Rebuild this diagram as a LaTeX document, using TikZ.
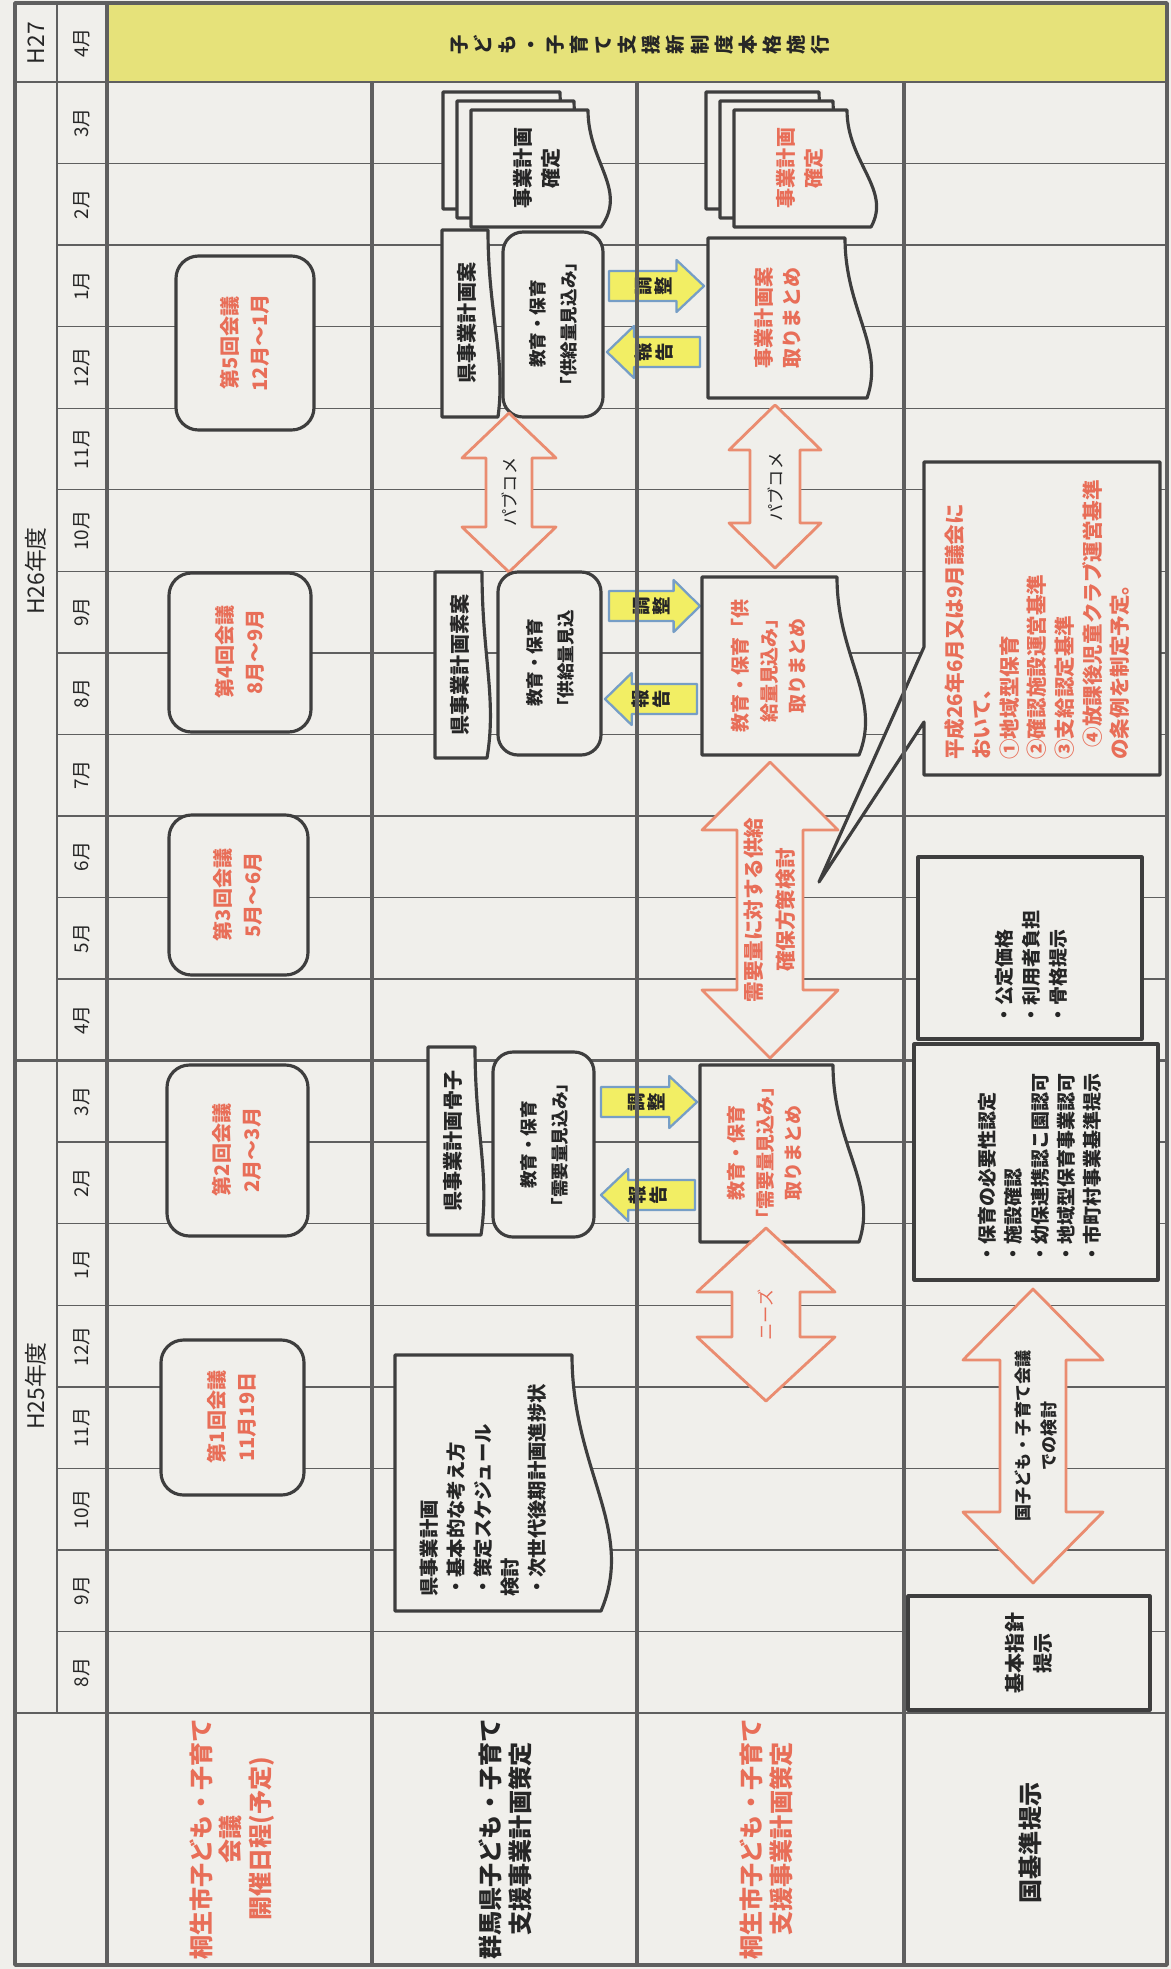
\documentclass[tikz,border=0pt]{standalone}
\usepackage{fontspec}
\setmainfont{Noto Sans CJK JP}
\usetikzlibrary{calc}

\definecolor{paper}{RGB}{240,239,235}
\definecolor{gridline}{RGB}{95,95,95}
\definecolor{boxline}{RGB}{62,62,62}
\definecolor{ink}{RGB}{38,38,38}
\definecolor{kiryured}{RGB}{232,110,88}
\definecolor{coral}{RGB}{234,140,112}
\definecolor{bandyellow}{RGB}{230,226,122}
\definecolor{tagyellow}{RGB}{242,238,100}
\definecolor{tagblue}{RGB}{118,158,198}

% 書類の形: 左x, 上y, 右上x, 下y, 右下のずれ, ふくらみ
\newcommand{\docpath}[6]{({#1},{#2}) -- ({#3},{#2})
  .. controls ({#3},{(#2)+0.45*((#4)-(#2))}) and ({(#3)+(#6)},{(#2)+0.68*((#4)-(#2))}) .. ({(#3)+(#5)},{#4})
  -- ({#1},{#4}) -- cycle}
% 両矢印: 中心x, 上端y, 下端y, 矢じり長さ, 矢じり半幅, 軸半幅
\newcommand{\dblarrow}[6]{({#1},{#2}) -- ({(#1)+(#5)},{(#2)+(#4)}) -- ({(#1)+(#6)},{(#2)+(#4)})
  -- ({(#1)+(#6)},{(#3)-(#4)}) -- ({(#1)+(#5)},{(#3)-(#4)}) -- ({#1},{#3})
  -- ({(#1)-(#5)},{(#3)-(#4)}) -- ({(#1)-(#6)},{(#3)-(#4)}) -- ({(#1)-(#6)},{(#2)+(#4)})
  -- ({(#1)-(#5)},{(#2)+(#4)}) -- cycle}
% 小矢印: 根元x, 先端x, 中心y
\newcommand{\tagarrow}[3]{({#1},{(#3)-15}) -- ({(#2)-0.29*((#2)-(#1))},{(#3)-15})
  -- ({(#2)-0.29*((#2)-(#1))},{(#3)-26}) -- ({#2},{#3})
  -- ({(#2)-0.29*((#2)-(#1))},{(#3)+26}) -- ({(#2)-0.29*((#2)-(#1))},{(#3)+15})
  -- ({#1},{(#3)+15}) -- cycle}

\begin{document}
\begin{tikzpicture}[x=0.2mm, y=-0.2mm, line join=round,
    grid/.style={gridline, line width=0.8pt},
    divider/.style={gridline, line width=2pt},
    box/.style={boxline, line width=1.8pt, fill=paper},
    bigarrow/.style={coral, line width=1.6pt, fill=paper},
    tag/.style={tagblue, line width=1.3pt, fill=tagyellow},
    lbl/.style={rotate=90, align=center, inner sep=0pt, text=ink},
    redtxt/.style={text=kiryured},
    monthtxt/.style={font=\fontsize{10.8}{13}\selectfont},
    yeartxt/.style={font=\fontsize{13}{16}\selectfont},
    meettxt/.style={font=\fontsize{11.4}{17}\selectfont\bfseries, text=kiryured},
    doctxt/.style={font=\fontsize{11.4}{16}\selectfont\bfseries},
    edutxt/.style={font=\fontsize{10}{17.6}\selectfont\bfseries},
    sumtxt/.style={font=\fontsize{10.8}{16.2}\selectfont\bfseries, text=kiryured},
    listtxt/.style={font=\fontsize{11}{15.4}\selectfont\bfseries, align=left, anchor=west},
    tagtxt/.style={font=\fontsize{10.5}{11.5}\selectfont\bfseries},
    arrowtxt/.style={font=\fontsize{9.8}{12}\selectfont},
    labeltxt/.style={font=\fontsize{13.7}{17}\selectfont\bfseries}]

  \useasboundingbox (0,0) rectangle (1171,1969);
  \fill[paper] (0,0) rectangle (1171,1969);
  \fill[bandyellow] (107,3) rectangle (1167,82);

  % 月の線
  \foreach \k in {1,...,7,9,10,...,19}
    \draw[grid] (57,{1713-81.55*\k}) -- (1167,{1713-81.55*\k});
  \draw[grid, line width=1.3pt] (15,{1713-81.55*8}) -- (1167,{1713-81.55*8});
  \draw[grid, line width=1.6pt] (15,82) -- (1167,82);
  \draw[grid, line width=1.6pt] (15,1713) -- (1167,1713);

  % 見出し
  \node[lbl, yeartxt] (h27) at (36,43) {H27};
  \node[lbl, monthtxt] (apr27) at (82,43) {4月};
  \node[lbl, yeartxt] (h26) at (36,571) {H26年度};
  \node[lbl, yeartxt] (h25) at (36,1386) {H25年度};
  \foreach \m [count=\k from 0] in {8,9,10,11,12,1,2,3,4,5,6,7,8,9,10,11,12,1,2,3}
    \node[lbl, monthtxt] (mon\k) at (82,{1713-81.55*(\k+0.5)}) {\m 月};
  \node[lbl, font=\fontsize{11}{13.7}\selectfont\bfseries] (band) at (640,45)
    {子\\ど\\も\\・\\子\\育\\て\\支\\援\\新\\制\\度\\本\\格\\施\\行};

  % 会議
  \draw[box, rounded corners=4.5mm] (176,256) rectangle (314,430);
  \node[lbl, meettxt] (meet5) at (245,343) {第5回会議\\12月～1月};
  \draw[box, rounded corners=4.5mm] (169,573) rectangle (311,732);
  \node[lbl, meettxt] (meet4) at (240,652) {第4回会議\\8月～9月};
  \draw[box, rounded corners=4.5mm] (169,815) rectangle (308,975);
  \node[lbl, meettxt] (meet3) at (238,895) {第3回会議\\5月～6月};
  \draw[box, rounded corners=4.5mm] (167,1065) rectangle (308,1236);
  \node[lbl, meettxt] (meet2) at (237,1150) {第2回会議\\2月～3月};
  \draw[box, rounded corners=4.5mm] (161,1340) rectangle (304,1495);
  \node[lbl, meettxt] (meet1) at (232,1417) {第1回会議\\11月19日};

  % 群馬県
  \foreach \s in {2,1,0}
    \draw[box] \docpath{471-14*\s}{110-9*\s}{588-14*\s}{227-9*\s}{13}{40};
  \node[lbl, doctxt] (plan2) at (537,168) {事業計画\\確定};
  \draw[box] \docpath{442}{230}{488}{417}{10}{18};
  \node[lbl, doctxt] (pref5) at (467,323) {県事業計画案};
  \draw[box, rounded corners=4mm] (503,232) rectangle (603,417);
  \node[lbl, edutxt] (edu5) at (553,324) {教育・保育\\「供給量見込み」};
  \draw[bigarrow] \dblarrow{509}{413}{572}{45}{47}{23};
  \node[lbl, arrowtxt] (pub2) at (509,492) {パブコメ};
  \draw[box] \docpath{435}{572}{482}{758}{5}{15};
  \node[lbl, doctxt] (pref4) at (460,665) {県事業計画素案};
  \draw[box, rounded corners=4mm] (498,572) rectangle (601,755);
  \node[lbl, edutxt] (edu4) at (550,663) {教育・保育\\「供給量見込};
  \draw[box] \docpath{428}{1047}{475}{1235}{6}{15};
  \node[lbl, doctxt] (pref3) at (453,1141) {県事業計画骨子};
  \draw[box, rounded corners=4mm] (493,1052) rectangle (594,1237);
  \node[lbl, edutxt] (edu3) at (544,1145) {教育・保育\\「需要量見込み」};
  \draw[box] \docpath{395}{1355}{572}{1611}{29}{64};
  \node[lbl, listtxt] (pref1) at (483,1597)
    {県事業計画\\・基本的な考え方\\・策定スケジュール\\検討\\・次世代後期計画進捗状};

  % 調整・報告
  \draw[tag] \tagarrow{609}{704}{286};
  \node[lbl, tagtxt] (adj5) at (654,286) {調\\整};
  \draw[tag] \tagarrow{700}{607}{352};
  \node[lbl, tagtxt] (rep5) at (654,352) {報\\告};
  \draw[tag] \tagarrow{609}{700}{606};
  \node[lbl, tagtxt] (adj4) at (652,606) {調\\整};
  \draw[tag] \tagarrow{697}{605}{699};
  \node[lbl, tagtxt] (rep4) at (651,699) {報\\告};
  \draw[tag] \tagarrow{601}{697}{1102};
  \node[lbl, tagtxt] (adj3) at (647,1102) {調\\整};
  \draw[tag] \tagarrow{695}{601}{1195};
  \node[lbl, tagtxt] (rep3) at (648,1195) {報\\告};

  % 桐生市
  \foreach \s in {2,1,0}
    \draw[box] \docpath{734-14*\s}{110-9*\s}{847-14*\s}{227-9*\s}{24}{45};
  \node[lbl, doctxt, redtxt] (plan3) at (800,168) {事業計画\\確定};
  \draw[box] \docpath{708}{238}{845}{398}{22}{40};
  \node[lbl, doctxt, redtxt] (sum5) at (778,318) {事業計画案\\取りまとめ};
  \draw[bigarrow] \dblarrow{775}{405}{568}{45}{46}{25};
  \node[lbl, arrowtxt] (pub3) at (775,487) {パブコメ};
  \draw[box] \docpath{702}{577}{837}{755}{22}{45};
  \node[lbl, sumtxt] (sum4) at (769,666) {教育・保育「供\\給量見込み」\\取りまとめ};
  \draw[bigarrow] \dblarrow{770}{762}{1058}{68}{68}{33};
  \node[lbl, font=\fontsize{11.7}{18.2}\selectfont\bfseries, redtxt] (supply) at (770,910)
    {需要量に対する供給\\確保方策検討};
  \draw[box] \docpath{700}{1065}{833}{1242}{26}{45};
  \node[lbl, sumtxt] (sum3) at (765,1153) {教育・保育\\「需要量見込み」\\取りまとめ};
  \draw[bigarrow] \dblarrow{766}{1228}{1401}{64}{69}{34};
  \node[lbl, arrowtxt, redtxt] (needs) at (766,1315) {ニーズ};

  % 国
  \coordinate (tip) at (819,882);
  \draw[box] (924,462) -- (1160,462) -- (1160,775) -- (924,775) -- (924,722) -- (tip)
    -- (924,647) -- cycle;
  \node[lbl, redtxt, font=\fontsize{11.7}{15.7}\selectfont\bfseries, align=left, anchor=west] (note)
    at (1037,760) {平成26年6月又は9月議会に\\おいて、\\①地域型保育\\②確認施設運営基準\\
    ③支給認定基準\\\hspace{0.6em}④放課後児童クラブ運営基準\\の条例を制定予定。};
  \draw[box] (918,857) rectangle (1142,1039);
  \node[lbl, listtxt, font=\fontsize{10.8}{15.4}\selectfont\bfseries] (price) at (1031,1025)
    {・公定価格\\・利用者負担\\・骨格提示};
  \draw[box] (914,1044) rectangle (1158,1280);
  \node[lbl, listtxt, font=\fontsize{10.8}{15}\selectfont\bfseries] (cert) at (1040,1264)
    {・保育の必要性認定\\・施設確認\\・幼保連携認こ園認可\\・地域型保育事業認可\\・市町村事業基準提示};
  \draw[bigarrow] \dblarrow{1033}{1289}{1583}{71}{70}{33};
  \node[lbl, font=\fontsize{9.7}{14.8}\selectfont\bfseries] (natl) at (1036,1436)
    {国子ども・子育て会議\\での検討};
  \draw[box] (908,1596) rectangle (1150,1710);
  \node[lbl, doctxt] (basic) at (1029,1653) {基本指針\\提示};

  % 行の見出し
  \node[lbl, labeltxt, redtxt] (lab1) at (232,1839) {桐生市子ども・子育て\\会議\\開催日程(予定)};
  \node[lbl, labeltxt] (lab2) at (505,1839) {群馬県子ども・子育て\\支援事業計画策定};
  \node[lbl, labeltxt, redtxt] (lab3) at (766,1839) {桐生市子ども・子育て\\支援事業計画策定};
  \node[lbl, labeltxt] (lab4) at (1030,1843) {国基準提示};

  % 枠
  \draw[grid, line width=1.3pt] (57,3) -- (57,1713);
  \draw[divider] (107,3) -- (107,1965);
  \foreach \x in {372,637,904}
    \draw[divider] (\x,82) -- (\x,1965);
  \draw[divider] (15,3) rectangle (1167,1965);
\end{tikzpicture}
\end{document}
